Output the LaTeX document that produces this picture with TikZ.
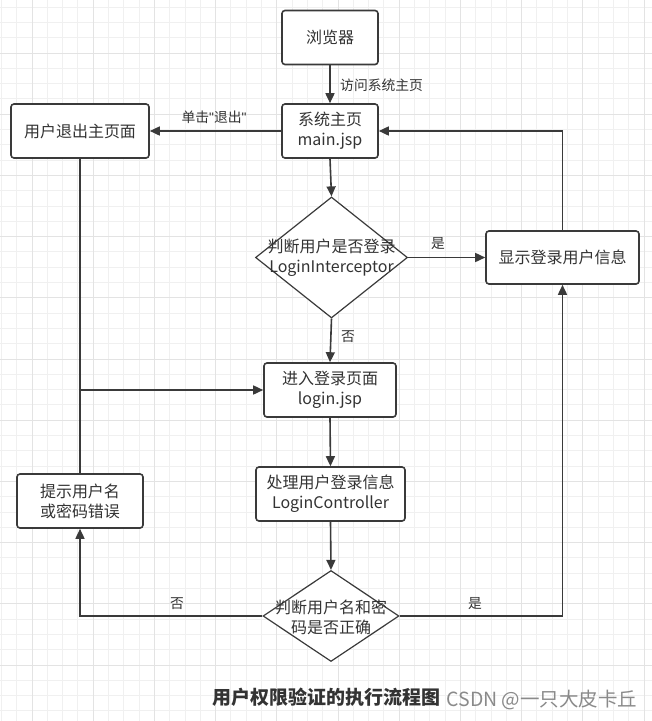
\documentclass[tikz,border=0pt]{standalone}
\usepackage{fontspec}
\setmainfont{Noto Sans CJK SC}
\newfontfamily\quotefont{Liberation Sans}
\usetikzlibrary{shapes.geometric,arrows.meta}
\definecolor{ink}{HTML}{3A3A3A}
\definecolor{txt}{HTML}{333333}
\definecolor{gridminor}{HTML}{F0F0F0}
\definecolor{gridmajor}{HTML}{E3E3E3}
\definecolor{wm}{HTML}{8A8A8A}
\tikzset{
  box/.style={draw=ink, line width=1.6pt, rounded corners=3pt, fill=white, align=center,
    text=txt, font=\fontsize{16}{20}\selectfont, inner sep=0pt},
  dia/.style={diamond, draw=ink, line width=1.2pt, fill=white, inner sep=0pt},
  diatext/.style={align=center, text=txt, font=\fontsize{16}{20}\selectfont, inner sep=0pt},
  arr/.style={draw=ink, line width=1.6pt, -{Triangle[length=10pt,width=9pt]}},
  plain/.style={draw=ink, line width=1.6pt},
  lbl/.style={text=txt, font=\fontsize{13.8}{16}\selectfont, inner sep=0pt},
  gminor/.style={draw=gridminor, line width=1pt},
  gmajor/.style={draw=gridmajor, line width=1pt}
}
\begin{document}
\begin{tikzpicture}[x=1pt,y=-1pt]
\useasboundingbox (0,0) rectangle (652,721);
\fill[white] (0,0) rectangle (652,721);
% grid
\foreach \i in {0,...,42} {
  \draw[gminor] ({1.4+15.3*\i},0) -- ({1.4+15.3*\i},721);
}
\foreach \i in {0,...,47} {
  \draw[gminor] (0,{7.1+15.3*\i}) -- (652,{7.1+15.3*\i});
}
\foreach \i in {0,...,10} {
  \draw[gmajor] ({32+61.2*\i},0) -- ({32+61.2*\i},721);
}
\foreach \i in {0,...,11} {
  \draw[gmajor] (0,{-8.2+61.2*\i}) -- (652,{-8.2+61.2*\i});
}

% nodes
\node[box, minimum width=96pt, minimum height=54pt] (browser) at (330,37.5) {浏览器};
\node[box, minimum width=96pt, minimum height=54pt] (main) at (330,131) {系统主页\\main.jsp};
\node[box, minimum width=138pt, minimum height=54pt] (quit) at (80,131) {用户退出主页面};
\node[dia, minimum width=152pt, minimum height=121pt] (d1) at (331.5,257.5) {};
\node[diatext] (d1t) at (331.5,258) {判断用户是否登录\\LoginInterceptor};
\node[box, minimum width=153pt, minimum height=53pt] (show) at (562.5,257.5) {显示登录用户信息};
\node[box, minimum width=132pt, minimum height=54pt] (login) at (330,390) {进入登录页面\\login.jsp};
\node[box, minimum width=149pt, minimum height=54pt] (proc) at (330.5,494) {处理用户登录信息\\LoginController};
\node[box, minimum width=126pt, minimum height=54pt] (tip) at (80,501) {提示用户名\\或密码错误};
\node[dia, minimum width=136pt, minimum height=91pt] (d2) at (331,616) {};
\node[diatext] (d2t) at (331,617) {判断用户名和密\\码是否正确};

% connectors
\draw[arr] (browser.south) -- (main.north);
\node[lbl, anchor=west] (l1) at (340,85) {访问系统主页};
\draw[arr] (main.west) -- (quit.east);
\node[lbl] (l2) at (214,117) {单击{\quotefont"}退出{\quotefont"}};
\draw[arr] (main.south) -- (d1.north);
\draw[arr] (d1.east) -- (show.west);
\node[lbl] (l3) at (438,244) {是};
\draw[arr] (show.north) |- (main.east);
\draw[arr] (d1.south) -- (login.north);
\node[lbl] (l4) at (348,337) {否};
\draw[plain] (quit.south) -- (tip.north);
\coordinate (j) at (quit.south |- login.west);
\draw[arr] (j) -- (login.west);
\draw[arr] (login.south) -- (proc.north);
\draw[arr] (proc.south) -- (d2.north);
\draw[arr] (d2.west) -| (tip.south);
\node[lbl] (l5) at (177,604) {否};
\draw[arr] (d2.east) -| (show.south);
\node[lbl] (l6) at (475,604) {是};

% title and watermark
\node[text=txt, font=\fontsize{19}{22}\selectfont\bfseries, inner sep=0pt] (title) at (326.5,697) {用户权限验证的执行流程图};
\node[text=wm, font=\fontsize{19.5}{22}\selectfont, inner sep=0pt] (wmk) at (542,700) {CSDN @一只大皮卡丘};
\end{tikzpicture}
\end{document}
